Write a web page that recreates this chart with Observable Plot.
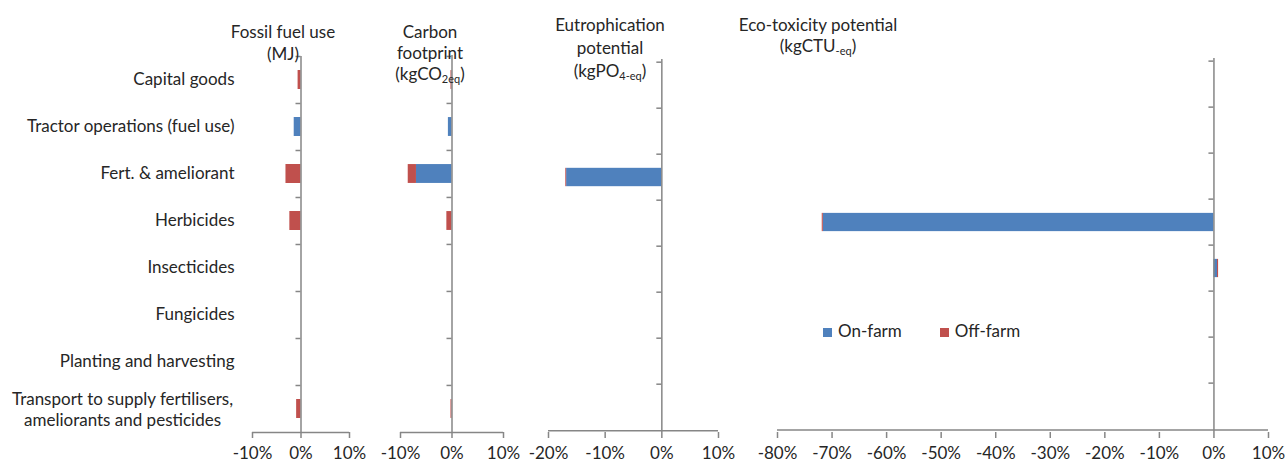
<!DOCTYPE html>
<html><head><meta charset="utf-8">
<script src="https://cdn.jsdelivr.net/npm/d3@7"></script>
<script src="https://cdn.jsdelivr.net/npm/@observablehq/plot@0.6"></script>
<style>
body{margin:0;background:#fff;font-family:Lato,"Open Sans",sans-serif;}
#wrap{position:relative;width:1285px;height:462px;overflow:hidden;background:#fff;}
#wrap svg{position:absolute;left:0;top:0;}
.title{position:absolute;text-align:center;font-size:17px;line-height:21px;color:#262626;transform:translateX(-50%);white-space:nowrap;}
.title sub{font-size:11px;vertical-align:-3px;line-height:0;}
.legend{position:absolute;left:823px;top:320px;font-size:17px;color:#262626;display:flex;gap:38px;}
.legend span.sw{display:inline-block;width:9px;height:9px;margin-right:6px;}
</style></head><body><div id="wrap"></div><script>
const categories = ["Capital goods","Tractor operations (fuel use)","Fert. & ameliorant","Herbicides","Insecticides","Fungicides","Planting and harvesting","Transport to supply fertilisers, ameliorants and pesticides"];
const seriesNames = ["On-farm","Off-farm"];
const seriesColors = ["#4F81BD","#C0504D"];
// values in % change
const fossilOn  = [0, -1.4, 0, 0, 0, 0, 0, 0];
const fossilOff = [-0.6, 0, -3.1, -2.3, 0, 0, 0, -0.9];
const carbonOn  = [0, -0.7, -6.9, 0, 0, 0, 0, 0];
const carbonOff = [-0.2, 0, -1.6, -1.0, 0, 0, 0, -0.2];
const eutroOn   = [0, 0, -16.8, 0, 0, 0, 0, 0];
const eutroOff  = [0, 0, -0.15, 0, 0, 0, 0, 0];
const ecotoxOn  = [0, 0, 0, -71.6, 0.65, 0, 0, 0];
const ecotoxOff = [0, 0, 0, -0.2, 0.2, 0, 0, 0];
const fossilTicks = [-10, 0, 10];
const carbonTicks = [-10, 0, 10];
const eutroTicks = [-20, -10, 0, 10];
const ecotoxTicks = [-80, -70, -60, -50, -40, -30, -20, -10, 0, 10];

const W = 1285, H = 462, bottom = 30;
const gray = "#868686", textColor = "#262626";
const panels = [
  {on: fossilOn, off: fossilOff, ticks: fossilTicks, left: 252, right: 349, top: 56, labels: true},
  {on: carbonOn, off: carbonOff, ticks: carbonTicks, left: 400, right: 503, top: 55},
  {on: eutroOn, off: eutroOff, ticks: eutroTicks, left: 548, right: 718, top: 59},
  {on: ecotoxOn, off: ecotoxOff, ticks: ecotoxTicks, left: 777, right: 1268, top: 58}
];
const wrap = document.getElementById("wrap");
for (const p of panels) {
  const rows = [];
  categories.forEach((c, i) => {
    if (p.on[i] !== 0) rows.push({cat: c, source: seriesNames[0], value: p.on[i]});
  });
  categories.forEach((c, i) => {
    if (p.off[i] !== 0) rows.push({cat: c, source: seriesNames[1], value: p.off[i]});
  });
  const lo = p.ticks[0], hi = p.ticks[p.ticks.length - 1];
  const step = (H - bottom - p.top) / categories.length;
  const inset = (step - 19) / 2;
  const zeroOffset = (0 - lo) / (hi - lo) * (p.right - p.left);
  const marks = [
    Plot.barX(rows, Plot.stackX({y: "cat", x: "value", fill: "source", insetTop: inset, insetBottom: inset})),
    Plot.ruleX([0], {stroke: gray, strokeWidth: 1.5}),
    Plot.ruleY(categories.slice(-1), {x1: lo, x2: hi, dy: step / 2, stroke: gray, strokeWidth: 1.5}),
    Plot.axisY({tickSize: 5, tickFormat: () => "", label: null, stroke: gray, strokeWidth: 1.5, dy: -step / 2, dx: zeroOffset}),
    Plot.axisX({ticks: p.ticks, tickSize: 6, tickPadding: 8, tickFormat: d => d + "%", label: null, stroke: gray, strokeWidth: 1.5, fill: textColor})
  ];
  if (p.labels) {
    marks.push(Plot.axisY(categories.slice(0, 7), {tickSize: 0, tickPadding: 18, label: null, fill: textColor}));
    marks.push(Plot.axisY(categories.slice(7), {tickSize: 0, tickPadding: 0, dx: -130, textAnchor: "middle", lineHeight: 1.25, label: null,
      tickFormat: () => "Transport to supply fertilisers,\nameliorants and pesticides", fill: textColor}));
  }
  const chart = Plot.plot({
    width: W, height: H,
    marginLeft: p.left, marginRight: W - p.right, marginTop: p.top, marginBottom: bottom,
    x: {domain: [lo, hi]},
    y: {domain: categories, padding: 0},
    color: {domain: seriesNames, range: seriesColors},
    style: {fontFamily: "Lato, 'Open Sans', sans-serif", fontSize: "17px", background: "transparent", overflow: "visible"},
    marks
  });
  wrap.appendChild(chart);
}
const titles = [
  {x: 283, y: 21, lh: 22, html: "Fossil fuel use<br>(MJ)"},
  {x: 430, y: 21, lh: 21, html: "Carbon<br>footprint<br>(kgCO<sub>2eq</sub>)"},
  {x: 610, y: 13, lh: 23, html: "Eutrophication<br>potential<br>(kgPO<sub>4-eq</sub>)"},
  {x: 818, y: 14, lh: 21, html: "Eco-toxicity potential<br>(kgCTU<sub>-eq</sub>)"}
];
for (const t of titles) {
  const d = document.createElement("div");
  d.className = "title";
  d.style.left = t.x + "px"; d.style.top = t.y + "px"; d.style.lineHeight = t.lh + "px";
  d.innerHTML = t.html;
  wrap.appendChild(d);
}
const leg = document.createElement("div");
leg.className = "legend";
leg.innerHTML = seriesNames.map((n, i) => `<div><span class="sw" style="background:${seriesColors[i]}"></span>${n}</div>`).join("");
wrap.appendChild(leg);
</script></body></html>
